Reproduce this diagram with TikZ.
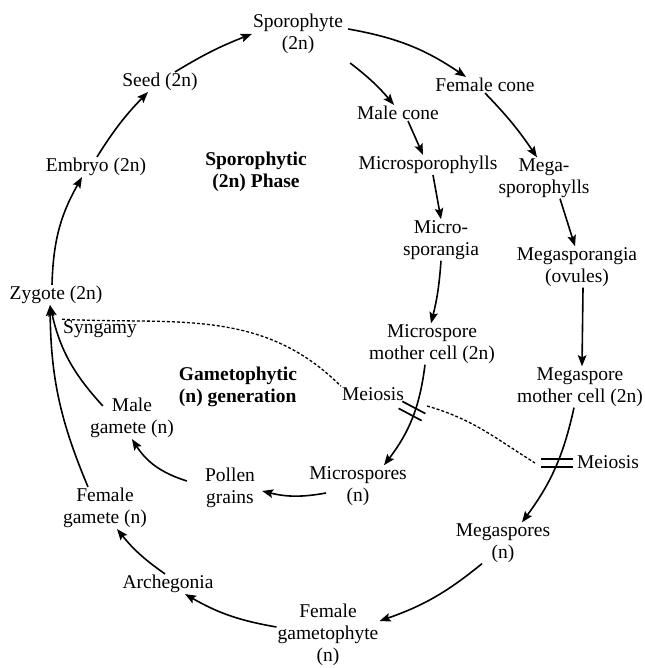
\documentclass[tikz,border=0pt]{standalone}
\usepackage{fontspec}
\setmainfont{Liberation Serif}
\usetikzlibrary{arrows.meta}
\begin{document}
\begin{tikzpicture}[
    x=1pt, y=1pt,
    stage/.style={align=center, inner sep=1pt, font=\fontsize{19.5}{22}\selectfont},
    phase/.style={stage, font=\fontsize{19.5}{22}\selectfont\bfseries},
    arr/.style={->, line width=1.6pt},
    link/.style={line width=1.3pt, dash pattern=on 3pt off 2pt},
    bars/.style={line width=1.7pt},
    >={Stealth[length=11pt, width=8.5pt, inset=2pt]}
]
\useasboundingbox (0,0) rectangle (644,668);

% Sporophytic stages
\node[stage] (spo) at (298,634) {Sporophyte\\(2n)};
\node[stage] (seed) at (160,586) {Seed (2n)};
\node[stage] (emb) at (96,501) {Embryo (2n)};
\node[stage] (zyg) at (56,373) {Zygote (2n)};
\node[stage] (syng) at (100,339) {Syngamy};
\node[phase] (sphase) at (256,496) {Sporophytic\\(2n) Phase};

% Male branch
\node[stage] (mcone) at (398,555) {Male cone};
\node[stage] (msph) at (428,503) {Microsporophylls};
\node[stage] (msporg) at (441,428) {Micro-\\sporangia};
\node[stage] (mmc) at (432,324) {Microspore\\mother cell (2n)};
\node[stage] (meio1) at (373,274) {Meiosis};
\node[stage] (mspores) at (358,182) {Microspores\\(n)};
\node[stage] (pollen) at (230,180) {Pollen\\grains};
\node[stage] (mgam) at (132,250) {Male\\gamete (n)};

% Female branch
\node[stage] (fcone) at (485,583) {Female cone};
\node[stage] (mgsph) at (544,490) {Mega-\\sporophylls};
\node[stage] (mgsporg) at (577,401) {Megasporangia\\(ovules)};
\node[stage] (mgmc) at (580,281) {Megaspore\\mother cell (2n)};
\node[stage] (meio2) at (608,206) {Meiosis};
\node[stage] (mgspores) at (503,125) {Megaspores\\(n)};
\node[stage] (fgph) at (328,33) {Female\\gametophyte\\(n)};
\node[stage] (arch) at (168,84) {Archegonia};
\node[stage] (fgam) at (105,160) {Female\\gamete (n)};
\node[phase, align=left] (gphase) at (238,281) {Gametophytic\\(n) generation};

% Meiosis marks
\coordinate (bar1) at (412,257);
\coordinate (bar2) at (557,205);
\draw[bars] (bar1) ++(-9.6,9.6) -- ++(23,-12.2);
\draw[bars] (bar1) ++(-13.4,2.6) -- ++(23,-12.2);
\draw[bars] (bar2) ++(-16,4) -- ++(32,0);
\draw[bars] (bar2) ++(-16,-4) -- ++(32,0);

% Sporophyte cycle
\draw[arr] ([xshift=-4pt]zyg.north) to[bend left=14] ([xshift=-14pt]emb.south);
\draw[arr] ([xshift=1pt]emb.north) to[bend left=6] ([xshift=-12pt]seed.south);
\draw[arr] ([xshift=15pt]seed.north) to[bend left=5] (spo.west);
\draw[arr] ([xshift=4pt,yshift=5pt]spo.east) to[bend left=12] ([xshift=-19pt]fcone.north);
\draw[arr] ([xshift=6pt,yshift=-8pt]spo.south east) to[bend left=6] ([xshift=-4pt]mcone.north);
\draw[arr] ([xshift=10pt]mcone.south) -- ([xshift=-5pt]msph.north);
\draw[arr] ([xshift=5pt]msph.south) -- (msporg.north);
\draw[arr] (msporg.south) to[bend left=5] ([xshift=-1pt]mmc.north);
\draw[arr] (fcone.south) to[bend left=5] ([xshift=-7pt]mgsph.north);
\draw[arr] ([xshift=16pt]mgsph.south) -- ([xshift=-2pt]mgsporg.north);
\draw[arr] ([xshift=6pt]mgsporg.south) -- ([xshift=2pt]mgmc.north);

% Gametophyte cycle
\draw[arr] ([xshift=-7pt]mmc.south) to[bend left=15] ([xshift=26pt]mspores.north);
\draw[arr] ([xshift=-6pt]mgmc.south) to[bend left=12] ([xshift=19pt]mgspores.north);
\draw[arr] ([xshift=18pt,yshift=-7pt]mspores.west) to[bend left=12] ([xshift=6pt,yshift=-3pt]pollen.east);
\draw[arr] ([xshift=-17pt,yshift=7pt]pollen.west) to[bend left=20] (mgam.south);
\draw[arr] ([xshift=14pt,yshift=-9pt]mgam.north west) to[bend left=15] ([xshift=-6pt]zyg.south);
\draw[arr] ([xshift=-17pt]fgam.north) to[bend left=11] ([xshift=-6pt]zyg.south);
\draw[arr] ([xshift=-21pt]mgspores.south) to[bend left=10] ([yshift=14pt]fgph.east);
\draw[arr] ([yshift=8pt]fgph.west) to[bend left=10] ([xshift=17pt]arch.south);
\draw[arr] ([xshift=-3pt]arch.north) to[bend left=8] ([xshift=12pt]fgam.south);

% Dashed links
\draw[link] (syng.north west) to[out=-3, in=135] (meio1.north west);
\draw[link] ([xshift=15pt,yshift=5pt]bar1) to[out=-16, in=148] ([xshift=-22pt]bar2);
\end{tikzpicture}
\end{document}
